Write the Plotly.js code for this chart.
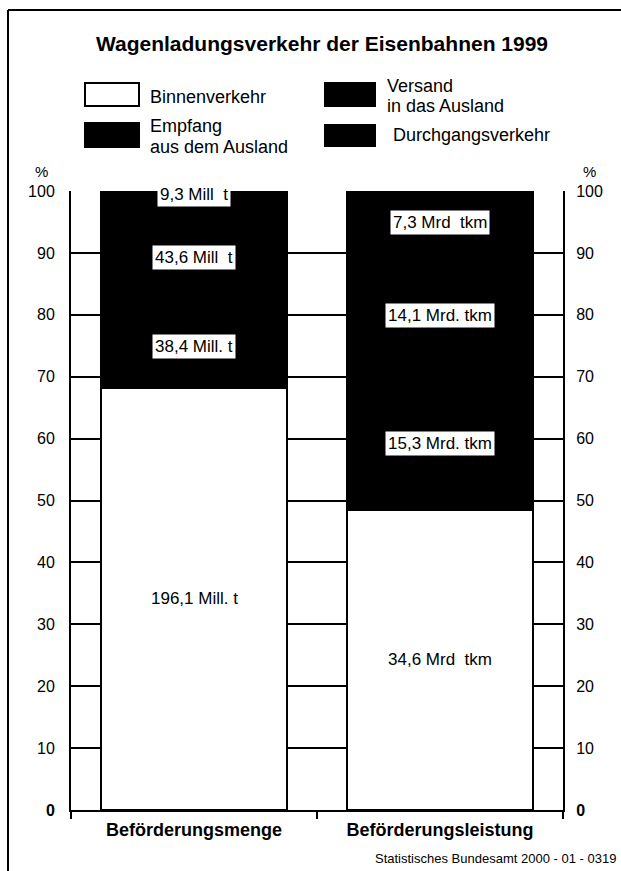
<!DOCTYPE html>
<html><head><meta charset="utf-8">
<script src="https://cdn.plot.ly/plotly-3.0.1.min.js"></script>
<style>html,body{margin:0;padding:0;background:#fff}</style>
</head><body>
<div id="chart" style="width:621px;height:871px"></div>
<script>
// ---- data ----
const categories = ['Beförderungsmenge', 'Beförderungsleistung'];
const seriesNames = ['Binnenverkehr', 'Versand in das Ausland', 'Empfang aus dem Ausland', 'Durchgangsverkehr'];
const binnen = [196.1, 34.6];
const versand = [38.4, 15.3];
const empfang = [43.6, 14.1];
const durchgang = [9.3, 7.3];
const binnenLabels = ['196,1 Mill. t', '34,6 Mrd\u00a0 tkm'];
const versandLabels = ['38,4 Mill. t', '15,3 Mrd. tkm'];
const empfangLabels = ['43,6 Mill\u00a0 t', '14,1 Mrd. tkm'];
const durchgangLabels = ['9,3 Mill\u00a0 t', '7,3 Mrd\u00a0 tkm'];
const yTicks = [0, 10, 20, 30, 40, 50, 60, 70, 80, 90, 100];

// ---- layout helpers ----
const W = 621, H = 871, ML = 71, MR = 58, MT = 191, MB = 61;
const PW = W - ML - MR, PH = H - MT - MB;
const px = x => (x - ML) / PW;
const py = y => (H - MB - y) / PH;
const FONT = 'Liberation Sans, Arial, sans-serif';

const xIdx = categories.map((c, i) => i);
const series = [binnen, versand, empfang, durchgang];
const labels = [binnenLabels, versandLabels, empfangLabels, durchgangLabels];
const fills = ['#ffffff', '#000000', '#000000', '#000000'];

const traces = series.map((vals, k) => ({
  type: 'bar', x: xIdx, y: vals, name: seriesNames[k],
  width: 0.756, marker: {color: fills[k], line: {color: '#000', width: 2}},
  hoverinfo: 'skip', showlegend: false
}));
traces.push({type: 'scatter', x: [], y: [], yaxis: 'y2', xaxis: 'x2', showlegend: false, hoverinfo: 'skip'});

// label positions from the stacked percentages
const annotations = [];
xIdx.forEach(i => {
  const total = series.reduce((s, arr) => s + arr[i], 0);
  let base = 0;
  series.forEach((arr, k) => {
    const pct = arr[i] / total * 100;
    let yc = base + pct / 2;
    if (base + pct >= 99.99 && pct < 5) yc = 99.5;
    annotations.push({
      x: i, y: yc, xref: 'x', yref: 'y', yanchor: 'middle', text: labels[k][i], showarrow: false,
      font: {family: FONT, size: 17, color: '#000'},
      bgcolor: k === 0 ? 'rgba(255,255,255,0)' : '#fff', borderpad: 2
    });
    base += pct;
  });
});

// legend (drawn manually)
const shapes = [];
const legendItems = [
  {box: [85, 83, 139, 106], fill: '#fff', lines: [['Binnenverkehr', 97]], tx: 148},
  {box: [85, 123, 139, 147], fill: '#000', lines: [['Empfang', 126], ['aus dem Ausland', 147]], tx: 148},
  {box: [325, 83, 375, 106], fill: '#000', lines: [['Versand', 86], ['in das Ausland', 106]], tx: 385},
  {box: [325, 125, 375, 146], fill: '#000', lines: [['Durchgangsverkehr', 135]], tx: 391}
];
legendItems.forEach(it => {
  shapes.push({type: 'rect', xref: 'paper', yref: 'paper',
    x0: px(it.box[0]), x1: px(it.box[2]), y0: py(it.box[3]), y1: py(it.box[1]),
    fillcolor: it.fill, line: {color: '#000', width: 2}});
  it.lines.forEach(([t, yy]) => annotations.push({
    xref: 'paper', yref: 'paper', x: px(it.tx), y: py(yy), xanchor: 'left', yanchor: 'middle',
    text: t, showarrow: false, font: {family: FONT, size: 18, color: '#000'}
  }));
});

// frame
shapes.push({type: 'line', xref: 'paper', yref: 'paper', x0: px(8), x1: px(621), y0: py(10), y1: py(10), line: {color: '#000', width: 2}});
shapes.push({type: 'line', xref: 'paper', yref: 'paper', x0: px(8), x1: px(8), y0: py(10), y1: py(871), line: {color: '#000', width: 2}});

// percent signs and source
annotations.push({xref: 'paper', yref: 'paper', x: px(41), y: py(172), xanchor: 'center', yanchor: 'middle', text: '%', showarrow: false, font: {family: FONT, size: 15, color: '#000'}});
annotations.push({xref: 'paper', yref: 'paper', x: px(589), y: py(172), xanchor: 'center', yanchor: 'middle', text: '%', showarrow: false, font: {family: FONT, size: 15, color: '#000'}});
annotations.push({xref: 'paper', yref: 'paper', x: px(618), y: py(858), xanchor: 'right', yanchor: 'middle', text: 'Statistisches Bundesamt 2000 - 01 - 0319', showarrow: false, font: {family: FONT, size: 13, color: '#000'}});

const tickText = yTicks.map(v => v === 0 ? '<b>0</b>' : String(v));

const layout = {
  width: W, height: H,
  margin: {l: ML, r: MR, t: MT, b: MB, pad: 0},
  paper_bgcolor: '#fff', plot_bgcolor: '#fff',
  barmode: 'stack', barnorm: 'percent',
  title: {text: '<b>Wagenladungsverkehr der Eisenbahnen 1999</b>', font: {family: FONT, size: 21, color: '#000'},
    xref: 'container', yref: 'container', x: 322 / W, xanchor: 'center', y: 1 - 44 / H, yanchor: 'middle'},
  xaxis: {range: [-0.5, 1.5], tickvals: xIdx, ticktext: categories.map(c => '<b>' + c + '</b>'),
    ticks: '', showgrid: false, zeroline: false, showline: true, linecolor: '#000', linewidth: 2,
    tickfont: {family: FONT, size: 18, color: '#000'}, ticklabelstandoff: 2, fixedrange: true},
  xaxis2: {overlaying: 'x', range: [-0.5, 1.5], tickvals: [-0.5, 0.5, 1.5], ticks: 'outside', ticklen: 8,
    tickwidth: 2, tickcolor: '#000', showticklabels: false, showgrid: false, zeroline: false, anchor: 'y', side: 'bottom'},
  yaxis: {range: [0, 100], tickvals: yTicks, ticktext: tickText, ticks: '', showgrid: true, gridcolor: '#000', gridwidth: 2,
    zeroline: false, showline: true, linecolor: '#000', linewidth: 2,
    tickfont: {family: FONT, size: 16, color: '#000'}, ticklabelstandoff: 11},
  yaxis2: {overlaying: 'y', side: 'right', range: [0, 100], tickvals: yTicks, ticktext: tickText, ticks: '',
    showgrid: false, zeroline: false, showline: true, linecolor: '#000', linewidth: 2,
    tickfont: {family: FONT, size: 16, color: '#000'}, ticklabelstandoff: 8},
  shapes: shapes, annotations: annotations, showlegend: false
};

Plotly.newPlot('chart', traces, layout, {staticPlot: true, displayModeBar: false});
</script>
</body></html>
